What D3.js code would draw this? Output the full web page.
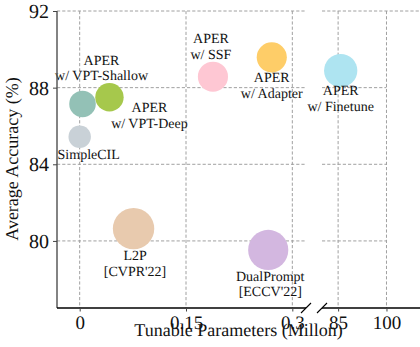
<!DOCTYPE html>
<html>
<head>
<meta charset="utf-8">
<script src="https://cdn.jsdelivr.net/npm/d3@7"></script>
<style>
  html, body { margin: 0; padding: 0; background: #fff; }
  svg { display: block; }
  text { text-rendering: geometricPrecision; }
</style>
</head>
<body>
<svg id="chart" width="420" height="347"></svg>
<script>
// Methods, their tunable parameters (millions) and average accuracy (%)
const methods = ["SimpleCIL", "APER w/ VPT-Shallow", "APER w/ VPT-Deep", "APER w/ SSF",
                 "APER w/ Adapter", "APER w/ Finetune", "L2P", "DualPrompt"];
const labelLines = [["SimpleCIL"], ["APER", "w/ VPT-Shallow"], ["APER", "w/ VPT-Deep"], ["APER", "w/ SSF"],
                    ["APER", "w/ Adapter"], ["APER", "w/ Finetune"], ["L2P", "[CVPR'22]"], ["DualPrompt", "[ECCV'22]"]];
const params = [0, 0.004, 0.042, 0.188, 0.271, 85.8, 0.076, 0.266];
const accuracy = [85.44, 87.15, 87.5, 88.57, 89.58, 88.89, 80.64, 79.53];
const markerSize = [500, 700, 800, 900, 900, 1100, 1700, 1600];
const colors = ["#c9d1d7", "#93c1b6", "#a6c84c", "#fec7d3", "#fecd68", "#aee4f1", "#e8caae", "#d3b7e0"];

// Axis ticks
const yTicks = [80, 84, 88, 92];
const xTicksLeft = [0, 0.15, 0.3];
const xTicksLeftLabels = ["0", "0.15", "0.3"];
const xTicksRight = [85, 100];
const xTicksRightLabels = ["85", "100"];

// Label placement relative to each bubble centre: [dx, first-baseline dy]
const labelOffset = [[9, 22.5], [19, -39], [40, 15], [-2, -33.5], [0, 25], [0, 24.5], [1.5, 31.5], [2, 31]];
const lineGap = 15.5;

const SERIF = '"Liberation Serif", "Times New Roman", Times, serif';
const INK = "#111";

const svg = d3.select("#chart");

const plotTop = 11, plotBottom = 308;
const y = d3.scaleLinear().domain([76.5, 92]).range([plotBottom, plotTop]);
const xL = d3.scaleLinear().domain([-0.032, 0.3193]).range([57, 306]);
const xR = d3.scaleLinear().domain([80, 110.4]).range([322, 420]);
const r = d3.scaleSqrt().domain([0, 1700]).range([0, 20.7]);

const xPos = v => (v > 1 ? xR(v) : xL(v));

const gridColor = "#a0a0a0";
const dash = "3.2,2";

// Horizontal gridlines
const grid = svg.append("g");
yTicks.forEach(t => {
  grid.append("line")
    .attr("x1", xL.range()[0]).attr("x2", xL.range()[1])
    .attr("y1", y(t)).attr("y2", y(t))
    .attr("stroke", gridColor).attr("stroke-width", 1).attr("stroke-dasharray", dash);
  grid.append("line")
    .attr("x1", xR.range()[0]).attr("x2", t === 92 ? xR.range()[1] : xR(100))
    .attr("y1", y(t)).attr("y2", y(t))
    .attr("stroke", gridColor).attr("stroke-width", 1).attr("stroke-dasharray", dash);
});
// Vertical gridlines
xTicksLeft.forEach(t => {
  grid.append("line")
    .attr("x1", xL(t)).attr("x2", xL(t)).attr("y1", plotTop).attr("y2", plotBottom)
    .attr("stroke", gridColor).attr("stroke-width", 1).attr("stroke-dasharray", dash);
});
xTicksRight.forEach(t => {
  grid.append("line")
    .attr("x1", xR(t)).attr("x2", xR(t)).attr("y1", plotTop).attr("y2", plotBottom)
    .attr("stroke", gridColor).attr("stroke-width", 1).attr("stroke-dasharray", dash);
});

// Bubbles
const pts = methods.map((m, i) => ({ m, i, x: params[i], y: accuracy[i], s: markerSize[i] }));
svg.append("g").selectAll("circle").data(pts).join("circle")
  .attr("cx", d => xPos(d.x))
  .attr("cy", d => y(d.y))
  .attr("r", d => r(d.s))
  .attr("fill", d => colors[d.i]);

// Bubble labels
const lab = svg.append("g").selectAll("text").data(pts).join("text")
  .attr("text-anchor", "middle")
  .style("font-family", SERIF).style("font-size", "14px").style("fill", INK)
  .attr("x", d => xPos(d.x) + labelOffset[d.i][0])
  .attr("y", d => y(d.y) + labelOffset[d.i][1]);
lab.selectAll("tspan").data(d => labelLines[d.i].map((t, k) => ({ t, k, d }))).join("tspan")
  .attr("x", e => xPos(e.d.x) + labelOffset[e.d.i][0])
  .attr("dy", e => (e.k === 0 ? 0 : lineGap))
  .text(e => e.t);

// Y axis
const yAxis = svg.append("g").attr("transform", `translate(${xL.range()[0]},0)`)
  .call(d3.axisLeft(y).tickValues(yTicks).tickSize(4).tickPadding(4).tickFormat(d3.format("d")));
yAxis.select(".domain").attr("stroke", "#5a5a5a").attr("stroke-width", 1.5)
  .attr("d", `M0,${plotTop}V${plotBottom}`);
yAxis.selectAll(".tick line").attr("stroke", "#444").attr("stroke-width", 1);
yAxis.selectAll(".tick text").style("font-size", "20px").style("font-family", SERIF).style("fill", INK);

// X axes (broken)
const xAxisL = svg.append("g").attr("transform", `translate(0,${plotBottom})`)
  .call(d3.axisBottom(xL).tickValues(xTicksLeft).tickSize(3.5).tickPadding(4)
        .tickFormat((d, i) => xTicksLeftLabels[i]));
const xAxisR = svg.append("g").attr("transform", `translate(0,${plotBottom})`)
  .call(d3.axisBottom(xR).tickValues(xTicksRight).tickSize(3.5).tickPadding(4)
        .tickFormat((d, i) => xTicksRightLabels[i]));
[xAxisL, xAxisR].forEach((g, k) => {
  const rng = k === 0 ? xL.range() : xR.range();
  g.select(".domain").attr("stroke", "#000").attr("stroke-width", 1.3)
    .attr("d", `M${rng[0]},0H${rng[1]}`);
  g.selectAll(".tick line").attr("stroke", "#444");
  g.selectAll(".tick text").style("font-size", "19px").style("font-family", SERIF).style("fill", INK);
});

// Break marks on the x axis
const br = svg.append("g").attr("stroke", "#000").attr("stroke-width", 1.1);
[xL.range()[1], xR.range()[0]].forEach(cx => {
  br.append("line").attr("x1", cx - 5).attr("y1", plotBottom + 5)
    .attr("x2", cx + 5).attr("y2", plotBottom - 5);
});

// Axis titles
svg.append("text").attr("x", 238.5).attr("y", 336).attr("text-anchor", "middle")
  .style("font-family", SERIF).style("font-size", "18px").style("fill", INK)
  .text("Tunable Parameters (Millon)");
svg.append("text").attr("transform", "translate(18,159) rotate(-90)").attr("text-anchor", "middle")
  .style("font-family", SERIF).style("font-size", "18px").style("fill", INK)
  .text("Average Accuracy (%)");
</script>
</body>
</html>
